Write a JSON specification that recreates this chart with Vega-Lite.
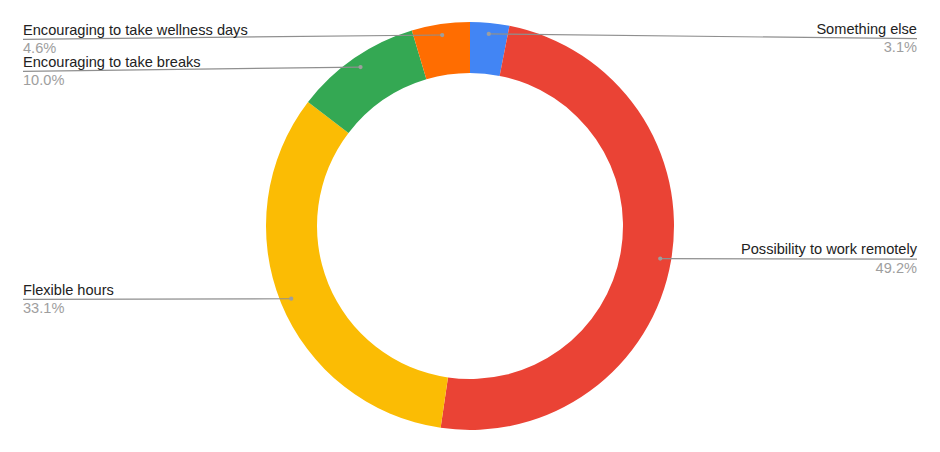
{
  "$schema": "https://vega.github.io/schema/vega-lite/v6.json",
  "width": 940,
  "height": 452,
  "autosize": {"type": "fit", "contains": "padding"},
  "padding": 0,
  "background": "white",
  "config": {"view": {"stroke": null}, "font": "Liberation Sans"},
  "data": {
    "values": [
      {"category": "Something else", "share": 0.031, "rank": 1},
      {"category": "Possibility to work remotely", "share": 0.492, "rank": 2},
      {"category": "Flexible hours", "share": 0.331, "rank": 3},
      {"category": "Encouraging to take breaks", "share": 0.100, "rank": 4},
      {"category": "Encouraging to take wellness days", "share": 0.046, "rank": 5}
    ]
  },
  "layer": [
    {
      "mark": {"type": "arc", "outerRadius": 204, "innerRadius": 153},
      "encoding": {
        "theta": {"field": "share", "type": "quantitative", "stack": true},
        "order": {"field": "rank", "type": "quantitative"},
        "color": {
          "field": "category",
          "type": "nominal",
          "legend": null,
          "scale": {
            "domain": ["Something else", "Possibility to work remotely", "Flexible hours", "Encouraging to take breaks", "Encouraging to take wellness days"],
            "range": ["#4285F4", "#EA4335", "#FBBC04", "#34A853", "#FF6D01"]
          }
        }
      }
    },
    {
      "transform": [
        {"window": [{"op": "sum", "field": "share", "as": "cum"}], "sort": [{"field": "rank"}], "frame": [null, 0]},
        {"calculate": "(datum.cum - datum.share / 2) * 2 * PI", "as": "ang"},
        {"calculate": "470 + 193 * sin(datum.ang)", "as": "px"},
        {"calculate": "226 - 193 * cos(datum.ang)", "as": "py"},
        {"calculate": "datum.ang < PI ? 917 : 23", "as": "ex"},
        {"calculate": "datum.py < 150 ? max(datum.py + 4.3, 38.7) : datum.py + 0.6", "as": "ey"},
        {"calculate": "datum.ey - 4.7", "as": "ny"},
        {"calculate": "datum.ey + 13.6", "as": "vy"},
        {"calculate": "datum.ang < PI ? 'R' : 'L'", "as": "side"}
      ],
      "layer": [
        {
          "mark": {"type": "rule", "color": "#8f8f8f", "strokeWidth": 1.2},
          "encoding": {
            "x": {"field": "px", "type": "quantitative", "scale": {"domain": [0, 940], "nice": false, "zero": false}, "axis": null},
            "y": {"field": "py", "type": "quantitative", "scale": {"domain": [0, 452], "nice": false, "zero": false, "reverse": true}, "axis": null},
            "x2": {"field": "ex"},
            "y2": {"field": "ey"}
          }
        },
        {
          "mark": {"type": "point", "filled": true, "color": "#9e9e9e", "size": 18, "opacity": 1},
          "encoding": {
            "x": {"field": "px", "type": "quantitative"},
            "y": {"field": "py", "type": "quantitative"}
          }
        },
        {
          "transform": [{"filter": "datum.side == 'L'"}],
          "layer": [
            {
              "mark": {"type": "text", "align": "left", "baseline": "alphabetic", "fontSize": 14.6, "color": "#222222"},
              "encoding": {
                "x": {"field": "ex", "type": "quantitative"},
                "y": {"field": "ny", "type": "quantitative"},
                "text": {"field": "category"}
              }
            },
            {
              "mark": {"type": "text", "align": "left", "baseline": "alphabetic", "fontSize": 14.6, "color": "#9e9e9e"},
              "encoding": {
                "x": {"field": "ex", "type": "quantitative"},
                "y": {"field": "vy", "type": "quantitative"},
                "text": {"field": "share", "format": ".1%"}
              }
            }
          ]
        },
        {
          "transform": [{"filter": "datum.side == 'R'"}],
          "layer": [
            {
              "mark": {"type": "text", "align": "right", "baseline": "alphabetic", "fontSize": 14.6, "color": "#222222"},
              "encoding": {
                "x": {"field": "ex", "type": "quantitative"},
                "y": {"field": "ny", "type": "quantitative"},
                "text": {"field": "category"}
              }
            },
            {
              "mark": {"type": "text", "align": "right", "baseline": "alphabetic", "fontSize": 14.6, "color": "#9e9e9e"},
              "encoding": {
                "x": {"field": "ex", "type": "quantitative"},
                "y": {"field": "vy", "type": "quantitative"},
                "text": {"field": "share", "format": ".1%"}
              }
            }
          ]
        }
      ]
    }
  ]
}
